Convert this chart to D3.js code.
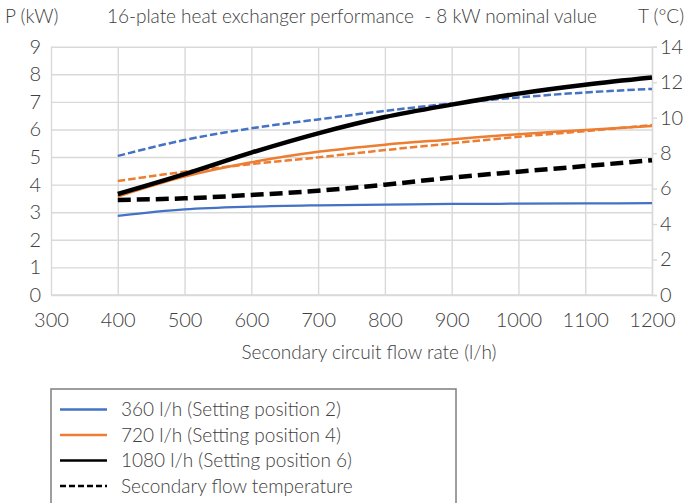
<!DOCTYPE html>
<html>
<head>
<meta charset="utf-8">
<script src="https://cdn.jsdelivr.net/npm/d3@7"></script>
<style>
  html, body { margin: 0; padding: 0; background: #fff; }
  svg { display: block; }
  text { font-family: "Lato", "Open Sans", sans-serif; font-weight: 300; fill: #404040; white-space: pre; }
</style>
</head>
<body>
<svg id="chart" width="687" height="503"></svg>
<script>
// Secondary circuit flow rate (l/h)
const flowRates = [400, 500, 600, 700, 800, 900, 1000, 1100, 1200];

// Power output (kW), left axis
const power360 = [2.87, 3.10, 3.20, 3.25, 3.28, 3.30, 3.31, 3.32, 3.33];
const power720 = [3.57, 4.29, 4.81, 5.19, 5.45, 5.64, 5.83, 5.98, 6.13];
const power1080 = [3.66, 4.38, 5.16, 5.86, 6.45, 6.90, 7.30, 7.62, 7.88];

// Secondary flow temperature (°C), right axis
const temp360 = [7.84, 8.74, 9.40, 9.90, 10.38, 10.80, 11.14, 11.42, 11.62];
const temp720 = [6.43, 6.95, 7.38, 7.76, 8.17, 8.55, 8.92, 9.24, 9.58];
const temp1080 = [5.36, 5.45, 5.64, 5.88, 6.22, 6.62, 6.95, 7.27, 7.60];

// Axis ticks
const xTicks = [300, 400, 500, 600, 700, 800, 900, 1000, 1100, 1200];
const pTicks = [0, 1, 2, 3, 4, 5, 6, 7, 8, 9];
const tTicks = [0, 2, 4, 6, 8, 10, 12, 14];

const legendLabels = [
  "360 l/h (Setting position 2)",
  "720 l/h (Setting position 4)",
  "1080 l/h (Setting position 6)",
  "Secondary flow temperature"
];

const titleText = "16-plate heat exchanger performance  - 8 kW nominal value";

const svg = d3.select("#chart");
const plot = { left: 51, right: 652, top: 46.7, bottom: 295 };

const x = d3.scaleLinear().domain([300, 1200]).range([plot.left, plot.right]);
const yP = d3.scaleLinear().domain([0, 9]).range([plot.bottom, plot.top]);
const yT = d3.scaleLinear().domain([0, 14]).range([plot.bottom, plot.top]);

const gridColor = "#d9d9d9";
const tickFont = "20px";
const intFmt = d3.format("d");

// Horizontal gridlines (power axis)
svg.append("g")
  .attr("transform", `translate(${plot.left},0)`)
  .call(d3.axisLeft(yP).tickValues(pTicks).tickSize(-(plot.right - plot.left)).tickFormat(""))
  .call(g => g.select(".domain").remove())
  .call(g => g.selectAll("line").attr("stroke", gridColor).attr("stroke-width", 1.4));

// Vertical gridlines
svg.append("g")
  .attr("transform", `translate(0,${plot.bottom})`)
  .call(d3.axisBottom(x).tickValues(xTicks).tickSize(-(plot.bottom - plot.top)).tickFormat(""))
  .call(g => g.select(".domain").remove())
  .call(g => g.selectAll("line").attr("stroke", gridColor).attr("stroke-width", 1.4));

// Left tick labels
svg.append("g")
  .attr("transform", `translate(${plot.left},0)`)
  .call(d3.axisLeft(yP).tickValues(pTicks).tickFormat(intFmt).tickSize(0).tickPadding(10))
  .call(g => g.select(".domain").remove())
  .call(g => g.selectAll("text").style("font-size", tickFont).attr("fill", "#404040"));

// Bottom tick labels
svg.append("g")
  .attr("transform", `translate(0,${plot.bottom})`)
  .call(d3.axisBottom(x).tickValues(xTicks).tickFormat(intFmt).tickSize(0).tickPadding(18))
  .call(g => g.select(".domain").remove())
  .call(g => g.selectAll("text").style("font-size", tickFont).attr("fill", "#404040"));

// Right (temperature) axis
svg.append("g")
  .attr("transform", `translate(${plot.right},0)`)
  .call(d3.axisRight(yT).tickValues(tTicks).tickFormat(intFmt).tickSize(5).tickPadding(3))
  .call(g => g.select(".domain").attr("stroke", gridColor).attr("stroke-width", 1.4))
  .call(g => g.selectAll("line").attr("stroke", gridColor).attr("stroke-width", 1.4))
  .call(g => g.selectAll("text").style("font-size", tickFont).attr("fill", "#404040"));

// Bottom axis line
svg.append("line")
  .attr("x1", plot.left).attr("x2", plot.right)
  .attr("y1", plot.bottom).attr("y2", plot.bottom)
  .attr("stroke", gridColor).attr("stroke-width", 1.6);

// Series
const blue = "#4472c4", orange = "#ed7d31", black = "#000000";
const series = [
  { values: temp360, scale: yT, color: blue, width: 2.5, dash: "7.5,3" },
  { values: temp720, scale: yT, color: orange, width: 2.5, dash: "7.5,3" },
  { values: power360, scale: yP, color: blue, width: 2.25, dash: null },
  { values: power720, scale: yP, color: orange, width: 2.5, dash: null },
  { values: temp1080, scale: yT, color: black, width: 4.5, dash: "13,6" },
  { values: power1080, scale: yP, color: black, width: 4.5, dash: null }
];

series.forEach(s => {
  const line = d3.line()
    .x((d, i) => x(flowRates[i]))
    .y(d => s.scale(d))
    .curve(d3.curveMonotoneX);
  svg.append("path")
    .datum(s.values)
    .attr("d", line)
    .attr("fill", "none")
    .attr("stroke", s.color)
    .attr("stroke-width", s.width)
    .attr("stroke-dasharray", s.dash)
    .attr("stroke-linejoin", "round");
});

// Titles
svg.append("text").attr("x", 5).attr("y", 23).style("font-size", "19px").text("P (kW)");
svg.append("text").attr("x", 107).attr("y", 23).style("font-size", "19px")
  .attr("textLength", 490).attr("lengthAdjust", "spacing").text(titleText);
svg.append("text").attr("x", 638).attr("y", 23).style("font-size", "19px").text("T (°C)");
svg.append("text").attr("x", 369).attr("y", 359).attr("text-anchor", "middle")
  .style("font-size", "19px").text("Secondary circuit flow rate (l/h)");

// Legend
const legend = svg.append("g");
legend.append("rect")
  .attr("x", 51).attr("y", 389).attr("width", 405).attr("height", 140)
  .attr("fill", "none").attr("stroke", "#7f7f7f").attr("stroke-width", 1.5);

const legendStyles = [
  { color: blue, dash: null },
  { color: orange, dash: null },
  { color: black, dash: null },
  { color: black, dash: "6,3" }
];
legendLabels.forEach((label, i) => {
  const cy = 409.5 + i * 25.5;
  legend.append("line")
    .attr("x1", 60).attr("x2", 107).attr("y1", cy).attr("y2", cy)
    .attr("stroke", legendStyles[i].color).attr("stroke-width", 2.5)
    .attr("stroke-dasharray", legendStyles[i].dash);
  legend.append("text")
    .attr("x", 121).attr("y", cy).attr("dy", "0.35em")
    .style("font-size", "19px").text(label);
});
</script>
</body>
</html>
